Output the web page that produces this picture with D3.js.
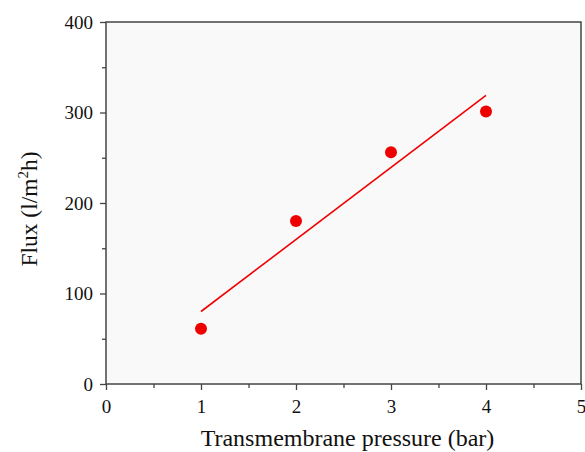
<!DOCTYPE html>
<html><head><meta charset="utf-8">
<script src="https://cdn.jsdelivr.net/npm/d3@7"></script>
<style>body{margin:0;background:#fff}svg{display:block}</style>
</head><body>
<script>
const pressure = [1, 2, 3, 4];
const flux = [61, 180, 256, 301];
const xTicks = [0, 1, 2, 3, 4, 5];
const yTicks = [0, 100, 200, 300, 400];
const xMinor = [0.5, 1.5, 2.5, 3.5, 4.5];
const yMinor = [50, 150, 250, 350];

const W = 585, H = 452;
const m = {left: 106, right: 4, top: 22, bottom: 68};
const svg = d3.select("body").append("svg").attr("width", W).attr("height", H);
const x = d3.scaleLinear().domain([0, 5]).range([m.left, W - m.right]);
const y = d3.scaleLinear().domain([0, 400]).range([H - m.bottom, m.top]);
const font = "'Liberation Serif','Times New Roman',serif";
const axisColor = "#444";

svg.append("rect").attr("x", x(0)).attr("y", y(400)).attr("width", x(5) - x(0)).attr("height", y(0) - y(400))
  .attr("fill", "#f9f9f9");

// linear fit
const n = pressure.length;
const mx = d3.mean(pressure), my = d3.mean(flux);
const slope = d3.sum(pressure, (d, i) => (d - mx) * (flux[i] - my)) / d3.sum(pressure, d => (d - mx) ** 2);
const icpt = my - slope * mx;
const fitX = [pressure[0], pressure[n - 1]];
svg.append("path").datum(fitX)
  .attr("d", d3.line().x(d => x(d)).y(d => y(icpt + slope * d)))
  .attr("stroke", "#f00000").attr("stroke-width", 1.6).attr("fill", "none");

svg.selectAll("circle.pt").data(pressure).join("circle")
  .attr("cx", d => x(d)).attr("cy", (d, i) => y(flux[i])).attr("r", 6).attr("fill", "#ee0000");

function styleAxis(g) {
  g.select(".domain").remove();
  g.selectAll(".tick line").attr("stroke", axisColor).attr("stroke-width", 1.3);
  g.selectAll(".tick text").attr("font-family", font).attr("font-size", 19).attr("fill", "#111");
}
const gx = svg.append("g").attr("transform", `translate(0,${y(0)})`)
  .call(d3.axisBottom(x).tickValues(xTicks).tickSize(6).tickPadding(10).tickFormat(d3.format("d")));
styleAxis(gx);
const gxm = svg.append("g").attr("transform", `translate(0,${y(0)})`)
  .call(d3.axisBottom(x).tickValues(xMinor).tickSize(4).tickFormat(""));
styleAxis(gxm);
const gy = svg.append("g").attr("transform", `translate(${x(0)},0)`)
  .call(d3.axisLeft(y).tickValues(yTicks).tickSize(6).tickPadding(7).tickFormat(d3.format("d")));
styleAxis(gy);
const gym = svg.append("g").attr("transform", `translate(${x(0)},0)`)
  .call(d3.axisLeft(y).tickValues(yMinor).tickSize(4).tickFormat(""));
styleAxis(gym);

svg.append("rect").attr("x", x(0)).attr("y", y(400)).attr("width", x(5) - x(0)).attr("height", y(0) - y(400))
  .attr("fill", "none").attr("stroke", axisColor).attr("stroke-width", 1.5);

svg.append("text").attr("x", (x(0) + x(5)) / 2 + 4).attr("y", 446).attr("text-anchor", "middle")
  .attr("font-family", font).attr("font-size", 24).attr("fill", "#111").text("Transmembrane pressure (bar)");

const yt = svg.append("text").attr("transform", `translate(37,${(y(0) + y(400)) / 2 + 6}) rotate(-90)`)
  .attr("text-anchor", "middle").attr("font-family", font).attr("font-size", 23.5).attr("fill", "#111");
yt.append("tspan").text("Flux (l/m");
yt.append("tspan").attr("font-size", 15).attr("dy", -9).text("2");
yt.append("tspan").attr("dy", 9).text("h)");
</script>
</body></html>
